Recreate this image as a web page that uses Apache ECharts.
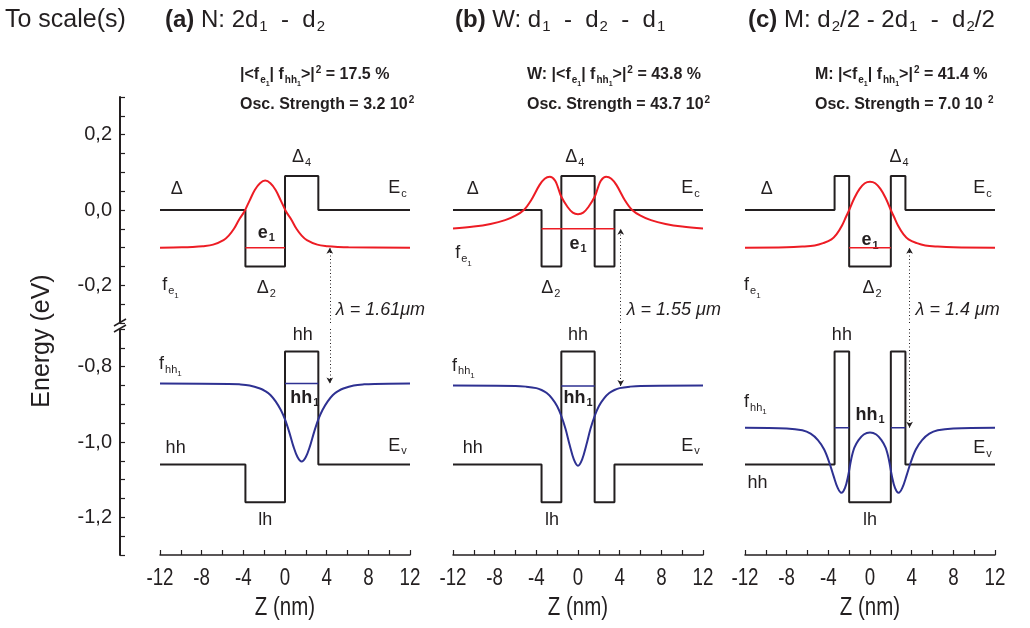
<!DOCTYPE html>
<html>
<head>
<meta charset="utf-8">
<script src="https://cdn.jsdelivr.net/npm/echarts/dist/echarts.min.js"></script>
<style>
html, body { margin: 0; padding: 0; background: #fff; }
#main { width: 1030px; height: 628px; }
</style>
</head>
<body>
<div id="main"></div>
<script>
var FONT = "'Liberation Sans', Arial, sans-serif";
var INK = '#231f20', RED = '#ed1c24', BLUE = '#2e3192';

// ---- values (z in nm, energy in eV) ----
// (a) N: 2d1 - d2
var zBandA = [-12, -3.8, -3.8, 0, 0, 3.2, 3.2, 12];
var ecA = [0, 0, -0.15, -0.15, 0.09, 0.09, 0, 0];
var evA = [-1.06, -1.06, -1.16, -1.16, -0.76, -0.76, -1.06, -1.06];
var zFeA = [-12, -9.9, -8.9, -7.9, -6.9, -5.9, -5.4, -4.9, -4.4, -3.9, -3.4, -2.9, -2.4, -1.9, -1.4, -0.9, -0.4, 0.1, 0.6, 1.1, 1.6, 2.1, 3.1, 4.1, 5.1, 6.1, 12];
var feA = [-0.1, -0.099, -0.098, -0.096, -0.092, -0.08, -0.068, -0.05, -0.025, -0.004, 0.025, 0.053, 0.071, 0.078, 0.071, 0.053, 0.025, -0.004, -0.025, -0.05, -0.068, -0.08, -0.092, -0.096, -0.098, -0.099, -0.1];
var zFhA = [-12, -5.4, -4.4, -3.4, -2.4, -1.9, -1.4, -0.9, -0.4, 0, 0.4, 0.8, 1.2, 1.6, 2.0, 2.4, 2.8, 3.2, 3.6, 4.1, 4.6, 5.1, 5.6, 6.6, 7.6, 8.6, 12];
var fhA = [-0.845, -0.846, -0.847, -0.85, -0.858, -0.865, -0.875, -0.892, -0.915, -0.94, -0.973, -1.011, -1.04, -1.052, -1.04, -1.011, -0.973, -0.94, -0.915, -0.892, -0.875, -0.865, -0.858, -0.85, -0.847, -0.846, -0.845];
var e1LevA = [[-3.8, 0]], e1A = -0.1;
var hh1LevA = [[0, 3.2]], hh1A = -0.845;
var lamZA = 4.3;

// (b) W: d1 - d2 - d1
var zBandB = [-12, -3.5, -3.5, -1.6, -1.6, 1.6, 1.6, 3.5, 3.5, 12];
var ecB = [0, 0, -0.15, -0.15, 0.09, 0.09, -0.15, -0.15, 0, 0];
var evB = [-1.06, -1.06, -1.16, -1.16, -0.76, -0.76, -1.16, -1.16, -1.06, -1.06];
var zFeB = [-12, -10, -8.4, -7, -6, -5.2, -4.5, -3.7, -3.2, -2.7, -2.2, -1.9, -1.6, -1.0, -0.5, 0, 0.5, 1.0, 1.6, 1.9, 2.2, 2.7, 3.2, 3.7, 4.5, 5.2, 6, 7, 8.4, 10, 12];
var feB = [-0.049, -0.044, -0.037, -0.027, -0.015, 0, 0.026, 0.066, 0.083, 0.088, 0.078, 0.058, 0.035, 0.008, -0.007, -0.011, -0.007, 0.008, 0.035, 0.058, 0.078, 0.088, 0.083, 0.066, 0.026, 0, -0.015, -0.027, -0.037, -0.044, -0.049];
var zFhB = [-12, -6, -5, -4, -3.5, -3, -2.5, -2, -1.6, -1.2, -0.8, -0.4, 0, 0.4, 0.8, 1.2, 1.6, 2, 2.5, 3, 3.5, 4, 5, 6, 12];
var fhB = [-0.85, -0.851, -0.853, -0.857, -0.862, -0.87, -0.884, -0.905, -0.931, -0.965, -1.008, -1.046, -1.063, -1.046, -1.008, -0.965, -0.931, -0.905, -0.884, -0.87, -0.862, -0.857, -0.853, -0.851, -0.85];
var e1LevB = [[-3.5, 3.5]], e1B = -0.05;
var hh1LevB = [[-1.6, 1.6]], hh1B = -0.851;
var lamZB = 4.1;

// (c) M: d2/2 - 2d1 - d2/2
var zBandC = [-12, -3.4, -3.4, -2, -2, 2, 2, 3.4, 3.4, 12];
var ecC = [0, 0, 0.09, 0.09, -0.15, -0.15, 0.09, 0.09, 0, 0];
var evC = [-1.06, -1.06, -0.76, -0.76, -1.16, -1.16, -0.76, -0.76, -1.06, -1.06];
var zFeC = [-12, -8, -6.5, -5.3, -4.5, -3.7, -3.2, -2.7, -2.3, -2.0, -1.5, -1.0, -0.5, 0, 0.5, 1.0, 1.5, 2.0, 2.3, 2.7, 3.2, 3.7, 4.5, 5.3, 6.5, 8, 12];
var feC = [-0.1, -0.099, -0.097, -0.094, -0.088, -0.078, -0.064, -0.042, -0.018, 0, 0.032, 0.056, 0.071, 0.075, 0.071, 0.056, 0.032, 0, -0.018, -0.042, -0.064, -0.078, -0.088, -0.094, -0.097, -0.099, -0.1];
var zFhC = [-12, -8, -6.5, -5.7, -5.0, -4.4, -3.9, -3.5, -3.1, -2.75, -2.4, -2.1, -1.8, -1.5, -1.1, -0.6, 0, 0.6, 1.1, 1.5, 1.8, 2.1, 2.4, 2.75, 3.1, 3.5, 3.9, 4.4, 5.0, 5.7, 6.5, 8, 12];
var fhC = [-0.962, -0.964, -0.969, -0.978, -0.995, -1.02, -1.055, -1.09, -1.122, -1.135, -1.122, -1.09, -1.045, -1.015, -0.995, -0.98, -0.975, -0.98, -0.995, -1.015, -1.045, -1.09, -1.122, -1.135, -1.122, -1.09, -1.055, -1.02, -0.995, -0.978, -0.969, -0.964, -0.962];
var e1LevC = [[-2, 2]], e1C = -0.1;
var hh1LevC = [[-3.4, -2], [2, 3.4]], hh1C = -0.962;
var lamZC = 3.8;

// axis ticks and texts
var zTicks = [-12, -8, -4, 0, 4, 8, 12];
var titles = ['{b|(a)} N: 2d{s|1}  -  d{s|2}', '{b|(b)} W: d{s|1}  -  d{s|2}  -  d{s|1}', '{b|(c)} M: d{s|2}/2 - 2d{s|1}  -  d{s|2}/2'];
var overlapTexts = ['|<f{s|e}{ss|1}| f{s|hh}{ss|1}>|{p|2} = 17.5 %', 'W: |<f{s|e}{ss|1}| f{s|hh}{ss|1}>|{p|2} = 43.8 %', 'M: |<f{s|e}{ss|1}| f{s|hh}{ss|1}>|{p|2} = 41.4 %'];
var oscTexts = ['Osc. Strength = 3.2 10{p|2}', 'Osc. Strength = 43.7 10{p|2}', 'Osc. Strength = 7.0 10 {p|2}'];
var lamTexts = ['λ = 1.61μm', 'λ = 1.55 μm', 'λ = 1.4 μm'];

// in-plot labels: [text, 0 = upper part / 1 = lower part, z, E]
var labelsA = [
  ['Δ', 0, -10.4, 0.056], ['E{s|c}', 0, 10.8, 0.058], ['Δ{s|4}', 0, 1.6, 0.14],
  ['{b|e}{bs|1}', 0, -1.8, -0.06], ['Δ{s|2}', 0, -1.8, -0.207], ['f{s|e}{ss|1}', 0, -11, -0.2],
  ['hh', 1, 1.7, -0.716], ['f{s|hh}{ss|1}', 1, -11, -0.793], ['{b|hh}{bs|1}', 1, 1.9, -0.883],
  ['E{s|v}', 1, 10.8, -1.01], ['hh', 1, -10.5, -1.016], ['lh', 1, -1.9, -1.207]
];
var labelsB = [
  ['Δ', 0, -10.1, 0.056], ['E{s|c}', 0, 10.8, 0.058], ['Δ{s|4}', 0, -0.3, 0.14],
  ['{b|e}{bs|1}', 0, 0, -0.09], ['Δ{s|2}', 0, -2.6, -0.207], ['f{s|e}{ss|1}', 0, -11, -0.115],
  ['hh', 1, 0, -0.716], ['f{s|hh}{ss|1}', 1, -11, -0.798], ['{b|hh}{bs|1}', 1, 0, -0.883],
  ['E{s|v}', 1, 10.8, -1.01], ['hh', 1, -10.1, -1.016], ['lh', 1, -2.5, -1.207]
];
var labelsC = [
  ['Δ', 0, -9.9, 0.056], ['E{s|c}', 0, 10.8, 0.058], ['Δ{s|4}', 0, 2.8, 0.14],
  ['{b|e}{bs|1}', 0, 0, -0.08], ['Δ{s|2}', 0, 0.2, -0.207], ['f{s|e}{ss|1}', 0, -11.3, -0.2],
  ['hh', 1, -2.7, -0.716], ['f{s|hh}{ss|1}', 1, -11, -0.894], ['{b|hh}{bs|1}', 1, 0, -0.928],
  ['E{s|v}', 1, 10.8, -1.016], ['hh', 1, -10.8, -1.11], ['lh', 1, 0, -1.207]
];

var panels = [
  {zBand: zBandA, ec: ecA, ev: evA, zFe: zFeA, fe: feA, zFh: zFhA, fh: fhA, e1Lev: e1LevA, e1: e1A, hh1Lev: hh1LevA, hh1: hh1A, lamZ: lamZA, labels: labelsA},
  {zBand: zBandB, ec: ecB, ev: evB, zFe: zFeB, fe: feB, zFh: zFhB, fh: fhB, e1Lev: e1LevB, e1: e1B, hh1Lev: hh1LevB, hh1: hh1B, lamZ: lamZB, labels: labelsB},
  {zBand: zBandC, ec: ecC, ev: evC, zFe: zFeC, fe: feC, zFh: zFhC, fh: fhC, e1Lev: e1LevC, e1: e1C, hh1Lev: hh1LevC, hh1: hh1C, lamZ: lamZC, labels: labelsC}
];

// ---- layout ----
var panelLeft = [160, 453, 745];
var panelWidth = 250;
var upperRange = [-0.3, 0.3], lowerRange = [-1.3, -0.7];

function pairs(zs, es) {
  var out = [];
  for (var i = 0; i < zs.length; i++) out.push([zs[i], es[i]]);
  return out;
}

function yLabel(v) {
  var r = Math.round(v * 100);
  if (r % 20 !== 0) return '';
  var t = (Math.round(v * 10) / 10).toFixed(1);
  if (t === '-0.0') t = '0.0';
  return t.replace('.', ',');
}

var grids = [], xAxes = [], yAxes = [], series = [];
panels.forEach(function (p, i) {
  [0, 1].forEach(function (part) {
    var g = i * 2 + part;
    grids.push({left: panelLeft[i], width: panelWidth, top: part === 0 ? 97 : 329, height: 226});
    xAxes.push({
      type: 'value', gridIndex: g, min: -12, max: 12, interval: 4,
      show: part === 1,
      axisLine: {onZero: false, lineStyle: {color: INK, width: 1.5}},
      axisTick: {inside: true, length: 5, lineStyle: {color: INK, width: 1.2}},
      minorTick: {show: true, splitNumber: 2, length: 5, lineStyle: {color: INK, width: 1.2}},
      splitLine: {show: false},
      axisLabel: {show: false}
    });
    var rng = part === 0 ? upperRange : lowerRange;
    yAxes.push({
      type: 'value', gridIndex: g, min: rng[0], max: rng[1], interval: 0.05,
      show: i === 0, position: 'left', offset: 40,
      axisLine: {onZero: false, lineStyle: {color: INK, width: 2}},
      axisTick: {inside: true, length: 5, lineStyle: {color: INK, width: 1.2}},
      splitLine: {show: false},
      axisLabel: {fontSize: 20, fontFamily: FONT, color: INK, margin: 8, formatter: yLabel}
    });
  });

  var gt = i * 2, gb = i * 2 + 1;
  var base = {type: 'line', showSymbol: false, symbol: 'none', silent: true, animation: false};
  function line(g, data, color, width, extra) {
    var s = Object.assign({}, base, {xAxisIndex: g, yAxisIndex: g, data: data, lineStyle: {color: color, width: width}});
    return Object.assign(s, extra || {});
  }
  var arrowStyle = {type: [1, 2.5], color: INK, width: 1};
  // conduction band profile + upper half of the transition arrow
  series.push(line(gt, pairs(p.zBand, p.ec), INK, 2, {z: 2, markLine: {
    silent: true, symbol: ['none', 'arrow'], symbolSize: [5, 6], label: {show: false},
    lineStyle: arrowStyle, animation: false,
    data: [[{coord: [p.lamZ, upperRange[0]]}, {coord: [p.lamZ, p.e1]}]]
  }}));
  series.push(line(gt, pairs(p.zFe, p.fe), RED, 2, {z: 3, smooth: 0.35}));
  p.e1Lev.forEach(function (seg) {
    series.push(line(gt, pairs(seg, [p.e1, p.e1]), RED, 1.5, {z: 3}));
  });
  // valence band profile + lower half of the arrow
  series.push(line(gb, pairs(p.zBand, p.ev), INK, 2, {z: 2, markLine: {
    silent: true, symbol: ['none', 'arrow'], symbolSize: [5, 6], label: {show: false},
    lineStyle: arrowStyle, animation: false,
    data: [[{coord: [p.lamZ, lowerRange[1]]}, {coord: [p.lamZ, p.hh1]}]]
  }}));
  series.push(line(gb, pairs(p.zFh, p.fh), BLUE, 2, {z: 3, smooth: 0.35}));
  p.hh1Lev.forEach(function (seg) {
    series.push(line(gb, pairs(seg, [p.hh1, p.hh1]), BLUE, 1.5, {z: 3}));
  });
});

var chart = echarts.init(document.getElementById('main'));
chart.setOption({
  animation: false,
  backgroundColor: '#fff',
  grid: grids,
  xAxis: xAxes,
  yAxis: yAxes,
  series: series
});

// ---- texts ----
function makeRich(size, bold, italic) {
  var w = bold ? 'bold' : 'normal';
  var st = italic ? 'italic' : 'normal';
  function r(s, weight, pad) {
    return {fontSize: s, fontWeight: weight, fontStyle: st, fontFamily: FONT, fill: INK, padding: pad, verticalAlign: 'middle'};
  }
  var s1 = Math.round(size * 0.62), s2 = Math.round(size * 0.45);
  var d1 = Math.round(size * 0.6), d2 = Math.round(size * 1.1);
  return {
    b: r(size, 'bold', [0, 0, 0, 0]),
    s: r(s1, w, [d1, 0, 0, 1]),
    ss: r(s2, w, [d2, 0, 0, 0]),
    bs: r(s1, 'bold', [d1, 0, 0, 1]),
    p: r(s1, w, [0, 0, d1, 1])
  };
}
function txt(x, y, text, size, opt) {
  opt = opt || {};
  var align = opt.align || 'center';
  return {
    type: 'text', x: x, y: y, rotation: opt.rotation || 0, scaleX: opt.scaleX || 1, silent: true,
    style: {
      text: text, fontSize: size, fontFamily: FONT,
      fontWeight: opt.bold ? 'bold' : 'normal', fontStyle: opt.italic ? 'italic' : 'normal',
      fill: INK, align: align, verticalAlign: 'middle', textAlign: align, textVerticalAlign: 'middle',
      rich: makeRich(size, opt.bold, opt.italic)
    }
  };
}

var titleX = [165, 455, 748];
var noteX = [240, 527, 815];
var graphics = [];
graphics.push(txt(5, 20, 'To scale(s)', 25, {align: 'left'}));
graphics.push(txt(42, 341, 'Energy (eV)', 25, {rotation: Math.PI / 2}));
panels.forEach(function (p, i) {
  graphics.push(txt(titleX[i], 20, titles[i], 24, {align: 'left'}));
  graphics.push(txt(noteX[i], 75, overlapTexts[i], 16, {align: 'left', bold: true}));
  graphics.push(txt(noteX[i], 105, oscTexts[i], 16, {align: 'left', bold: true}));
  var lp = chart.convertToPixel({xAxisIndex: i * 2, yAxisIndex: i * 2}, [p.lamZ, -0.265]);
  graphics.push(txt(lp[0] + 6, lp[1], lamTexts[i], 18, {align: 'left', italic: true}));
  p.labels.forEach(function (l) {
    var g = i * 2 + l[1];
    var pt = chart.convertToPixel({xAxisIndex: g, yAxisIndex: g}, [l[2], l[3]]);
    graphics.push(txt(pt[0], pt[1], l[0], 18));
  });
  // x tick labels and axis name, drawn condensed like the original
  var gb = i * 2 + 1;
  zTicks.forEach(function (v) {
    var tp = chart.convertToPixel({xAxisIndex: gb, yAxisIndex: gb}, [v, lowerRange[0]]);
    graphics.push(txt(tp[0], tp[1] + 23, String(v), 24, {scaleX: 0.78}));
  });
  var cp = chart.convertToPixel({xAxisIndex: gb, yAxisIndex: gb}, [0, lowerRange[0]]);
  graphics.push(txt(cp[0], cp[1] + 53, 'Z (nm)', 25, {scaleX: 0.82}));
});
// axis break marks
graphics.push({type: 'line', silent: true, shape: {x1: 114, y1: 326, x2: 126, y2: 319}, style: {stroke: INK, lineWidth: 1.5}});
graphics.push({type: 'line', silent: true, shape: {x1: 114, y1: 332, x2: 126, y2: 325}, style: {stroke: INK, lineWidth: 1.5}});

chart.setOption({graphic: graphics});
</script>
</body>
</html>
